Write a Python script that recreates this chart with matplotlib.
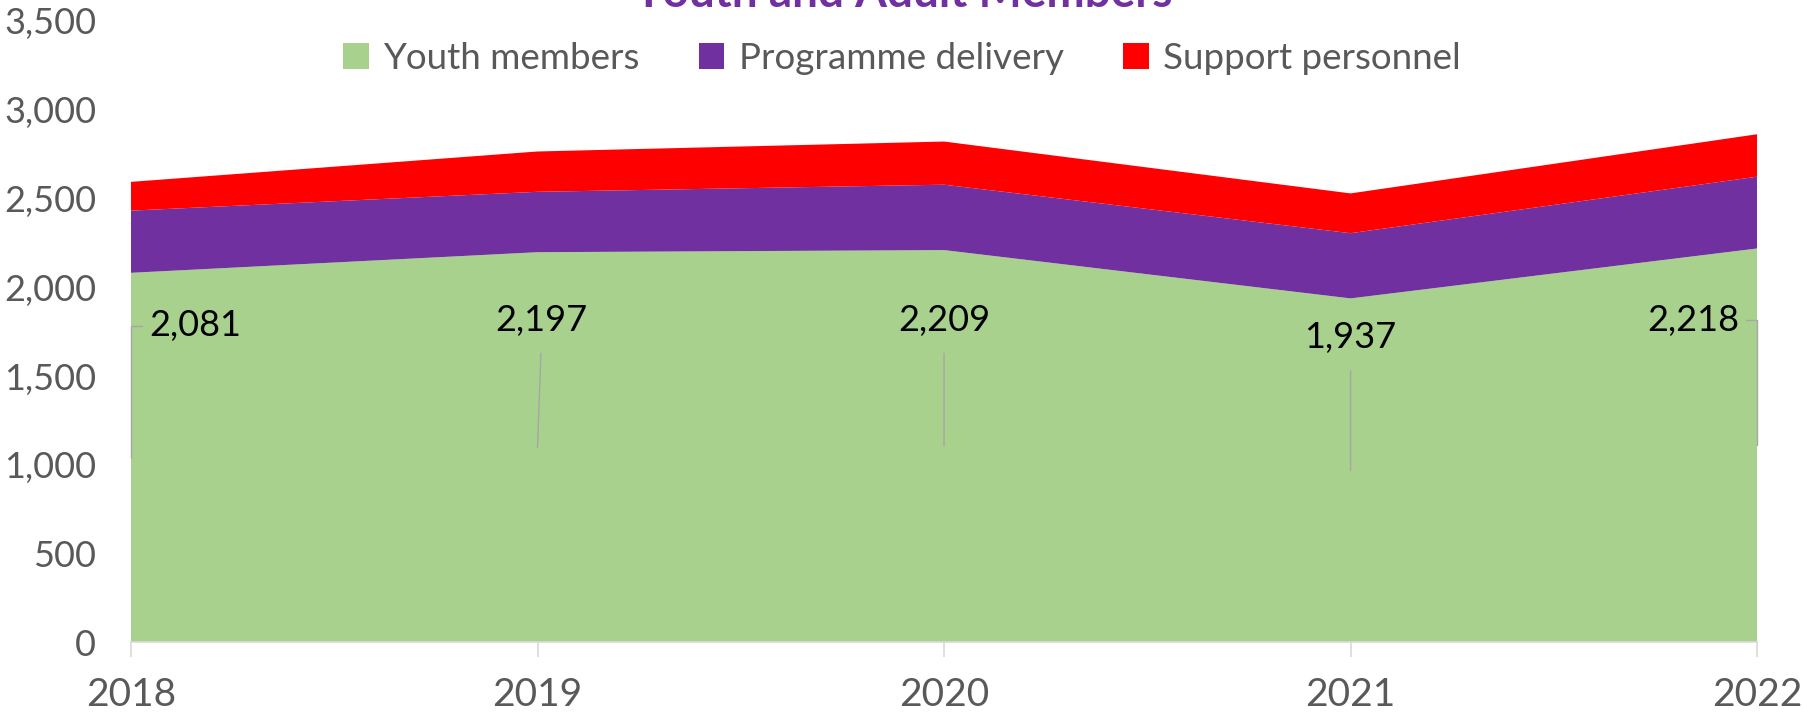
import matplotlib

matplotlib.use("Agg")
import matplotlib.pyplot as plt
from matplotlib.ticker import FuncFormatter

# values
years = [2018, 2019, 2020, 2021, 2022]
youth = [2081, 2197, 2209, 1937, 2218]
programme = [350, 340, 368, 367, 404]
support = [162, 227, 243, 224, 239]
series_names = ["Youth members", "Programme delivery", "Support personnel"]
colors = ["#A9D18E", "#7030A0", "#FF0000"]

# where each youth label sits (data coords) and how its leader line bends
label_pos = [(2018.045, 1782), (2019.01, 1815), (2020.0, 1815), (2021.0, 1717), (2021.955, 1815)]
label_ha = ["left", "center", "center", "center", "right"]

TEXT = "#595959"
plt.rcParams["font.family"] = ["Lato", "DejaVu Sans"]

fig = plt.figure(figsize=(18.04, 7.15), dpi=100)
ax = fig.add_axes([0.0726, 0.1014, 0.9014, 0.8696])

ax.stackplot(years, youth, programme, support, colors=colors, labels=series_names, lw=0)

ax.set_xlim(years[0], years[-1])
ax.set_ylim(0, 3500)
ax.set_xticks(years)
ax.set_yticks(range(0, 3501, 500))
ax.yaxis.set_major_formatter(FuncFormatter(lambda v, _: f"{v:,.0f}"))

for side in ("top", "right", "left"):
    ax.spines[side].set_visible(False)
ax.spines["bottom"].set_color("#D9D9D9")
ax.spines["bottom"].set_linewidth(1.2)
ax.tick_params(axis="x", colors="#D9D9D9", length=11, width=1.2, pad=14, labelsize=28, labelcolor=TEXT)
ax.tick_params(axis="y", length=0, pad=25, labelsize=26, labelcolor=TEXT)

# data labels for youth members with leader lines to the middle of the band
for yr, val, (lx, ly), ha in zip(years, youth, label_pos, label_ha):
    if ha == "left":
        arrow = dict(arrowstyle="-", color="#A6A6A6", lw=1, shrinkA=3, shrinkB=0,
                     relpos=(0, 0.5), connectionstyle="angle,angleA=0,angleB=90,rad=0")
    elif ha == "right":
        arrow = dict(arrowstyle="-", color="#A6A6A6", lw=1, shrinkA=3, shrinkB=0,
                     relpos=(1, 0.5), connectionstyle="angle,angleA=0,angleB=90,rad=0")
    else:
        arrow = dict(arrowstyle="-", color="#A6A6A6", lw=1, shrinkA=10, shrinkB=0, relpos=(0.5, 0))
    ax.annotate(f"{val:,}", xy=(yr, val / 2), xytext=(lx, ly), textcoords="data",
                ha=ha, va="center", fontsize=26, color="black", arrowprops=arrow,
                annotation_clip=False)

fig.text(0.5006, 0.990, "Youth and Adult Members", ha="center", va="baseline",
         fontsize=33, fontweight="bold", color="#7030A0")

leg = fig.legend(loc="center", bbox_to_anchor=(0.5, 0.918), ncol=3, frameon=False,
                 fontsize=26.5, handlelength=0.7, handleheight=0.7, handletextpad=0.4,
                 columnspacing=1.6, labelcolor=TEXT)

fig.savefig("out.png", dpi=100)
